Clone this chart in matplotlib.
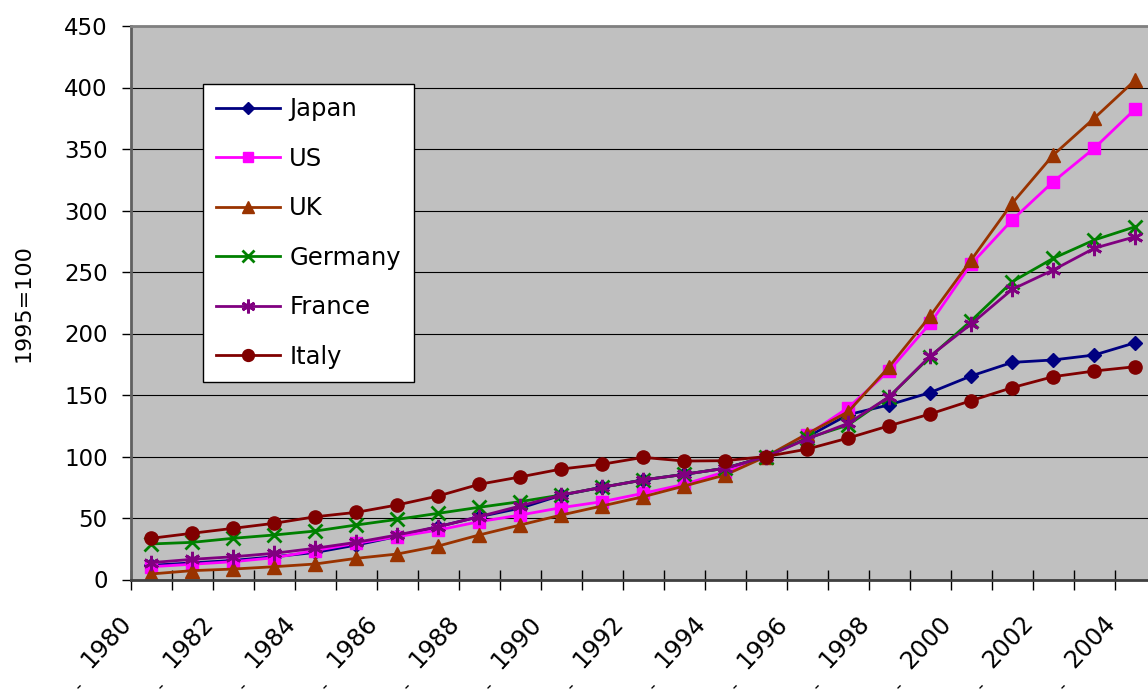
import matplotlib
matplotlib.use('Agg')
import matplotlib.pyplot as plt
import matplotlib.transforms as mtrans

years = list(range(1980, 2005))

japan = [11.5, 13.5, 15.5, 18.5, 22, 28, 35, 43, 51, 58, 68.5, 75, 81, 85.5, 90.5, 100,
         116, 134, 142, 152, 165.5, 176.5, 178.5, 182.5, 192.5]
us = [10.4, 12.4, 14.5, 17.7, 23.5, 29.4, 34.8, 40.2, 47, 52.4, 58.4, 63.3, 70.1, 77.4, 87.6, 100,
      117.5, 139.7, 169.8, 208.3, 256.5, 292.3, 323.4, 350.6, 382.5]
uk = [4.5, 7.2, 8.5, 10.4, 12.6, 17.2, 20.7, 27.2, 36.2, 44.3, 52.4, 59.8, 67.3, 76, 85, 100,
      118.5, 136.4, 173, 214.2, 259.8, 305.9, 345.1, 375, 406]
germany = [28.9, 30.2, 33.5, 36.2, 39.4, 44.3, 48.9, 53.8, 58.7, 63.3, 68.7, 75, 80.9, 85.5, 90.4, 100,
           114.8, 125.6, 148.6, 181.1, 210.4, 242.1, 261.1, 276, 286.8]
france = [13.7, 16.4, 18.5, 21.3, 25.4, 30.2, 36.2, 42.9, 51.1, 59.8, 68.7, 75, 80.9, 85.5, 90.4, 100,
          114.2, 127, 148.6, 181.7, 207.7, 235.9, 251.6, 269.3, 278.7]
italy = [33.5, 37.6, 41.6, 45.7, 51, 54.6, 60.6, 67.9, 77.4, 83.4, 89.8, 93.7, 99.3, 96.3, 96.6, 100,
         106, 115, 125, 134.6, 145.4, 156, 164.9, 169.5, 173]

names = ['Japan', 'US', 'UK', 'Germany', 'France', 'Italy']
series = [japan, us, uk, germany, france, italy]
colors = ['#000080', '#FF00FF', '#993300', '#008000', '#800080', '#800000']
markers = ['D', 's', '^', 'x', (6, 2, 0), 'o']
msizes = [7, 8.5, 10, 10, 11, 9.5]

fig = plt.figure(figsize=(11.48, 6.95), dpi=100)
ax = fig.add_axes([130.7 / 1148, 115.5 / 695, 1025 / 1148, 553.5 / 695])
ax.set_facecolor('#C0C0C0')

for name, vals, c, m, ms in zip(names, series, colors, markers, msizes):
    ax.plot(years, vals, color=c, marker=m, markersize=ms, linewidth=2,
            markeredgewidth=2 if m in ('x', (6, 2, 0)) else 1,
            markeredgecolor=c, label=name)

ax.set_xlim(1979.5, 2004.5)
ax.set_ylim(0, 450)
ax.set_yticks(range(0, 451, 50))
ax.yaxis.grid(True, color='black', linewidth=0.8)
ax.set_axisbelow(True)

ax.set_xticks([y - 0.5 for y in years] + [2004.5])
ax.set_xticklabels([])
ax.tick_params(axis='x', direction='inout', length=14, width=1, color='black')
ax.tick_params(axis='y', direction='out', length=6.5, width=1, color='black',
               labelsize=16.5, pad=10)

ax.spines['bottom'].set_color('#404040')
ax.spines['bottom'].set_linewidth(2)
ax.spines['left'].set_color('#606060')
ax.spines['left'].set_linewidth(2)
ax.spines['top'].set_color('#808080')
ax.spines['top'].set_linewidth(2)
ax.spines['right'].set_visible(False)

# year labels every two categories, rotated like the original
trans = mtrans.blended_transform_factory(ax.transData, ax.transAxes)
for y in years[::2]:
    ax.annotate(str(y), xy=(y, 0), xycoords=trans, xytext=(-24, -40),
                textcoords='offset pixels', rotation=47, rotation_mode='anchor',
                ha='right', va='center', fontsize=17.5, annotation_clip=False)
    ax.annotate('-', xy=(y, 0), xycoords=trans, xytext=(-73, -107),
                textcoords='offset pixels', rotation=45, rotation_mode='anchor',
                ha='center', va='center', fontsize=12, annotation_clip=False)

ax.set_ylabel('1995=100', fontsize=16, labelpad=22)

leg = ax.legend(loc='upper left', bbox_to_anchor=(203 / 1148, 1 - 84 / 695),
                bbox_transform=fig.transFigure, borderaxespad=0, fontsize=17.5,
                frameon=True, fancybox=False, framealpha=1, edgecolor='black',
                handlelength=2.6, handletextpad=0.4, borderpad=0.55,
                labelspacing=1.05, markerscale=0.9)
leg.get_frame().set_linewidth(1)

fig.savefig('out.png', dpi=100, facecolor='white')
